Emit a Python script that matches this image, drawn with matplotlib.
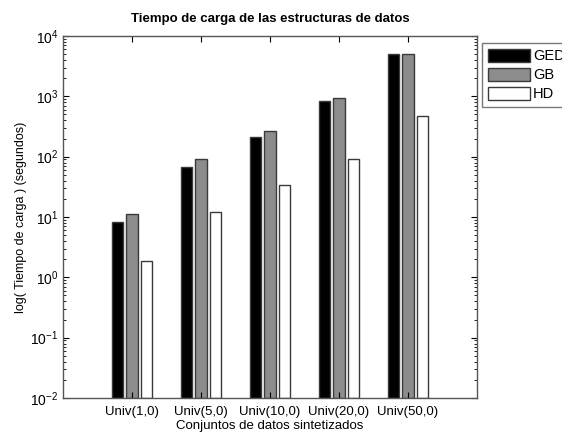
import numpy as np
import matplotlib.pyplot as plt
import matplotlib

matplotlib.rcParams['font.family'] = ['Liberation Sans', 'DejaVu Sans']
matplotlib.rcParams['mathtext.fontset'] = 'custom'
matplotlib.rcParams['mathtext.rm'] = 'Liberation Sans'
matplotlib.rcParams['mathtext.it'] = 'Liberation Sans:italic'
matplotlib.rcParams['mathtext.bf'] = 'Liberation Sans:bold'

# load times (seconds) per synthetic dataset
datasets = ['Univ(1,0)', 'Univ(5,0)', 'Univ(10,0)', 'Univ(20,0)', 'Univ(50,0)']
ged = [8.2, 68, 211, 826, 4970]
gb = [11.1, 90, 268, 927, 5090]
hd = [1.9, 12.1, 33.6, 93, 466]

series = [('GED', ged, '#000000'), ('GB', gb, '#8c8c8c'), ('HD', hd, '#ffffff')]

fig = plt.figure(figsize=(5.62, 4.34), dpi=100)
ax = fig.add_axes([63/562, 36/434, 414/562, 362/434])

x = np.arange(1, len(datasets) + 1)
step = 0.21
width = 0.17
bottom = 1e-2
for i, (name, vals, col) in enumerate(series):
    ax.bar(x + (i - 1)*step, np.array(vals) - bottom, width, bottom=bottom,
           color=col, edgecolor='#3a3a3a', linewidth=1.0, label=name)

ax.set_yscale('log')
ax.set_ylim(1e-2, 1e4)
ax.set_xlim(0, 6)
ax.set_xticks(x)
ax.set_xticklabels(datasets, fontsize=9.5)
ax.tick_params(axis='both', which='both', direction='in', top=True, right=True)
ax.tick_params(axis='y', which='major', length=4, labelsize=10)
ax.tick_params(axis='y', which='minor', length=2)
ax.tick_params(axis='x', length=4, pad=6)
for s in ax.spines.values():
    s.set_color('#555555')
    s.set_linewidth(1.0)

ax.set_title('Tiempo de carga de las estructuras de datos', fontsize=9.5,
             fontweight='bold', pad=10)
ax.set_xlabel('Conjuntos de datos sintetizados', fontsize=9.5, labelpad=1)
ax.set_ylabel('log( Tiempo de carga ) (segundos)', fontsize=9, labelpad=2)

leg = ax.legend(loc='upper left', bbox_to_anchor=(1.012, 0.981),
                borderaxespad=0, fontsize=10.5, fancybox=False,
                handlelength=2.9, handleheight=1.03, labelspacing=0.3,
                handletextpad=0.2, borderpad=0.4)
leg.get_frame().set_edgecolor('#555555')
leg.get_frame().set_linewidth(1.0)

plt.savefig('out.png', dpi=100)
